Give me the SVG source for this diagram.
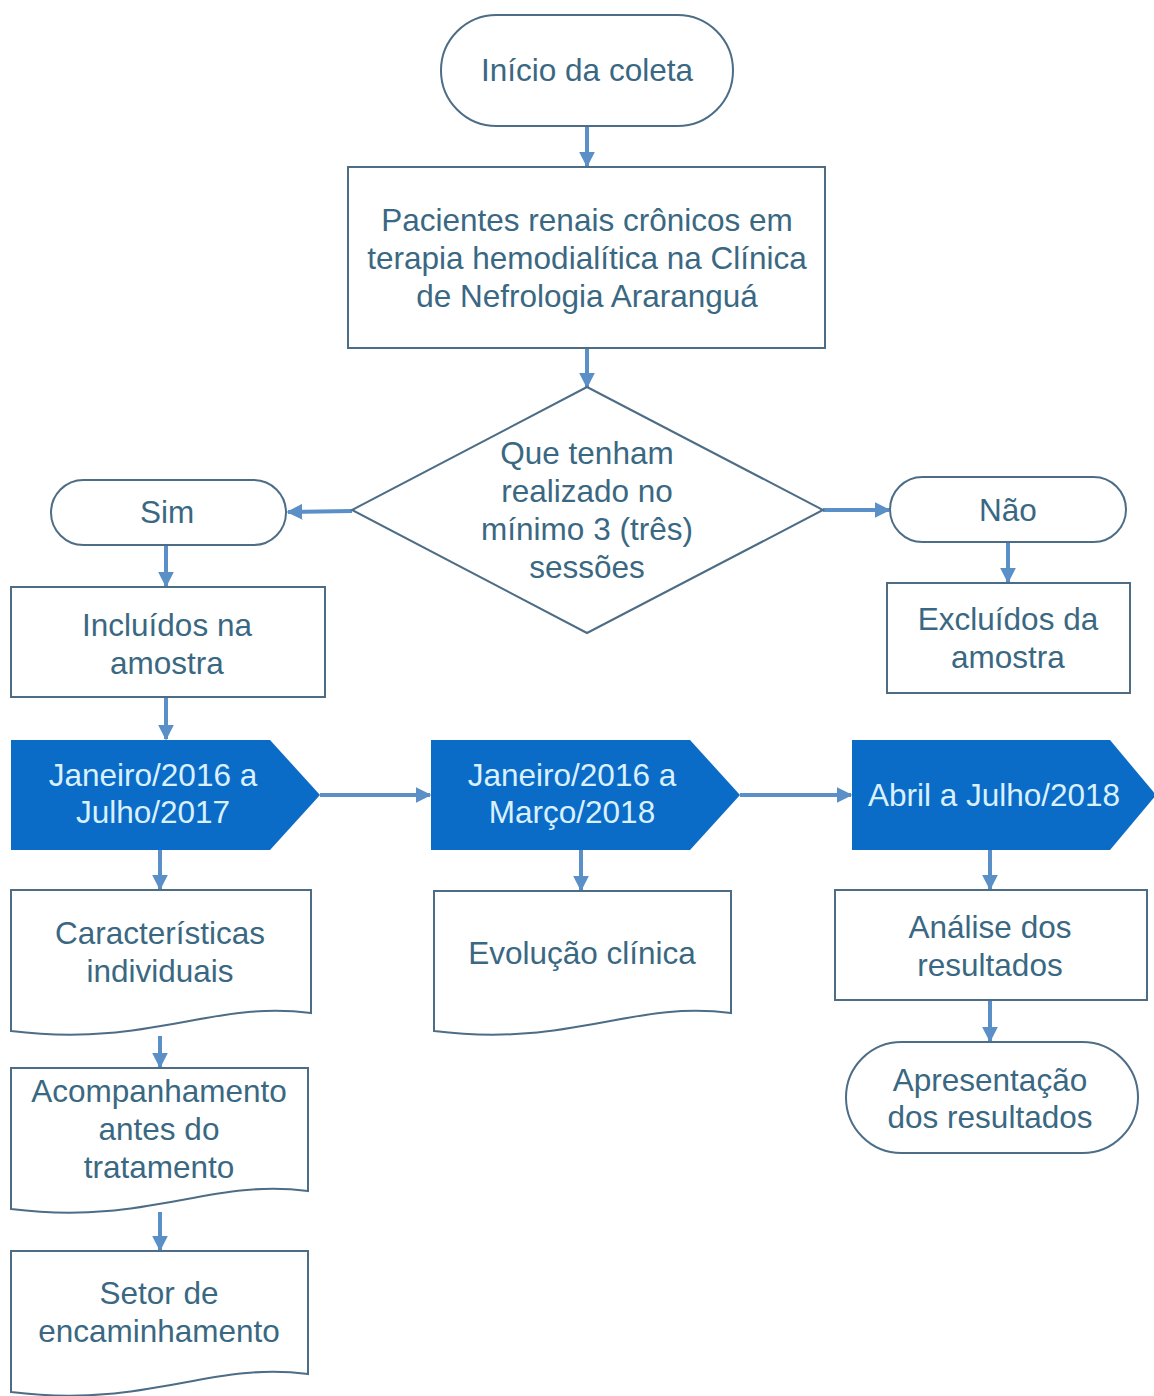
<svg xmlns="http://www.w3.org/2000/svg" width="1154" height="1396" viewBox="0 0 1154 1396">
<defs>
<marker id="ah" viewBox="0 0 10 10" refX="9" refY="5" markerWidth="4" markerHeight="4" orient="auto" markerUnits="strokeWidth">
<path d="M0,0 L10,5 L0,10 Z" fill="#5b8fc7"/>
</marker>
<style>
.s{fill:#fff;stroke:#4d6d86;stroke-width:2}
.t{font-family:"Liberation Sans",Arial,sans-serif;font-size:31.5px;fill:#3a6882;text-anchor:middle}
.p{fill:#0b6cc8;stroke:none}
.pt{font-family:"Liberation Sans",Arial,sans-serif;font-size:31.5px;fill:#d9f1ff;text-anchor:middle}
.c{stroke:#5b8fc7;stroke-width:4;fill:none;marker-end:url(#ah)}
</style>
</defs>
<rect width="1154" height="1396" fill="#fff"/>
<g id="connectors">
<line class="c" x1="587" y1="126" x2="587" y2="166"/>
<line class="c" x1="587" y1="348" x2="587" y2="387"/>
<line class="c" x1="352" y1="511" x2="288" y2="512"/>
<line class="c" x1="823" y1="510" x2="889" y2="510"/>
<line class="c" x1="166" y1="545" x2="166" y2="586"/>
<line class="c" x1="1008" y1="542" x2="1008" y2="582"/>
<line class="c" x1="166" y1="697" x2="166" y2="739"/>
<line class="c" x1="320" y1="795" x2="430" y2="795"/>
<line class="c" x1="740" y1="795" x2="851" y2="795"/>
<line class="c" x1="160" y1="850" x2="160" y2="889"/>
<line class="c" x1="581" y1="850" x2="581" y2="890"/>
<line class="c" x1="990" y1="850" x2="990" y2="889"/>
<line class="c" x1="160" y1="1036" x2="160" y2="1067"/>
<line class="c" x1="160" y1="1212" x2="160" y2="1250"/>
<line class="c" x1="990" y1="1000" x2="990" y2="1041"/>
</g>
<g id="n-inicio">
<rect class="s" x="441" y="15" width="292" height="111" rx="55.5"/>
<text class="t" x="587" y="81">Início da coleta</text>
</g>
<g id="n-pacientes">
<rect class="s" x="348" y="167" width="477" height="181"/>
<text class="t" x="587" y="231">Pacientes renais crônicos em</text>
<text class="t" x="587" y="269">terapia hemodialítica na Clínica</text>
<text class="t" x="587" y="307">de Nefrologia Araranguá</text>
</g>
<g id="n-decisao">
<polygon class="s" points="587,387 823,510 587,633 352,510"/>
<text class="t" x="587" y="464">Que tenham</text>
<text class="t" x="587" y="502">realizado no</text>
<text class="t" x="587" y="540">mínimo 3 (três)</text>
<text class="t" x="587" y="578">sessões</text>
</g>
<g id="n-sim">
<rect class="s" x="51" y="480" width="235" height="65" rx="32.5"/>
<text class="t" x="167" y="523">Sim</text>
</g>
<g id="n-nao">
<rect class="s" x="890" y="477" width="236" height="65" rx="32.5"/>
<text class="t" x="1008" y="521">Não</text>
</g>
<g id="n-incluidos">
<rect class="s" x="11" y="587" width="314" height="110"/>
<text class="t" x="167" y="636">Incluídos na</text>
<text class="t" x="167" y="674">amostra</text>
</g>
<g id="n-excluidos">
<rect class="s" x="887" y="583" width="243" height="110"/>
<text class="t" x="1008" y="630">Excluídos da</text>
<text class="t" x="1008" y="668">amostra</text>
</g>
<g id="n-periodo1">
<polygon class="p" points="11,740 270,740 320,795 270,850 11,850"/>
<text class="pt" x="153" y="786">Janeiro/2016 a</text>
<text class="pt" x="153" y="823">Julho/2017</text>
</g>
<g id="n-periodo2">
<polygon class="p" points="431,740 690,740 740,795 690,850 431,850"/>
<text class="pt" x="572" y="786">Janeiro/2016 a</text>
<text class="pt" x="572" y="823">Março/2018</text>
</g>
<g id="n-periodo3">
<polygon class="p" points="852,740 1110,740 1156,795 1110,850 852,850"/>
<text class="pt" x="994" y="806">Abril a Julho/2018</text>
</g>
<g id="n-caracteristicas">
<path class="s" d="M11,890 H311 V1013 C210,1000 150,1048 11,1031 Z"/>
<text class="t" x="160" y="944">Características</text>
<text class="t" x="160" y="982">individuais</text>
</g>
<g id="n-acompanhamento">
<path class="s" d="M11,1068 H308 V1191 C208,1178 148,1226 11,1209 Z"/>
<text class="t" x="159" y="1102">Acompanhamento</text>
<text class="t" x="159" y="1140">antes do</text>
<text class="t" x="159" y="1178">tratamento</text>
</g>
<g id="n-setor">
<path class="s" d="M11,1251 H308 V1374 C208,1361 148,1409 11,1392 Z"/>
<text class="t" x="159" y="1304">Setor de</text>
<text class="t" x="159" y="1342">encaminhamento</text>
</g>
<g id="n-evolucao">
<path class="s" d="M434,891 H731 V1013 C631,1000 571,1048 434,1031 Z"/>
<text class="t" x="582" y="964">Evolução clínica</text>
</g>
<g id="n-analise">
<rect class="s" x="835" y="890" width="312" height="110"/>
<text class="t" x="990" y="938">Análise dos</text>
<text class="t" x="990" y="976">resultados</text>
</g>
<g id="n-apresentacao">
<rect class="s" x="846" y="1042" width="292" height="111" rx="55.5"/>
<text class="t" x="990" y="1091">Apresentação</text>
<text class="t" x="990" y="1128">dos resultados</text>
</g>
</svg>
